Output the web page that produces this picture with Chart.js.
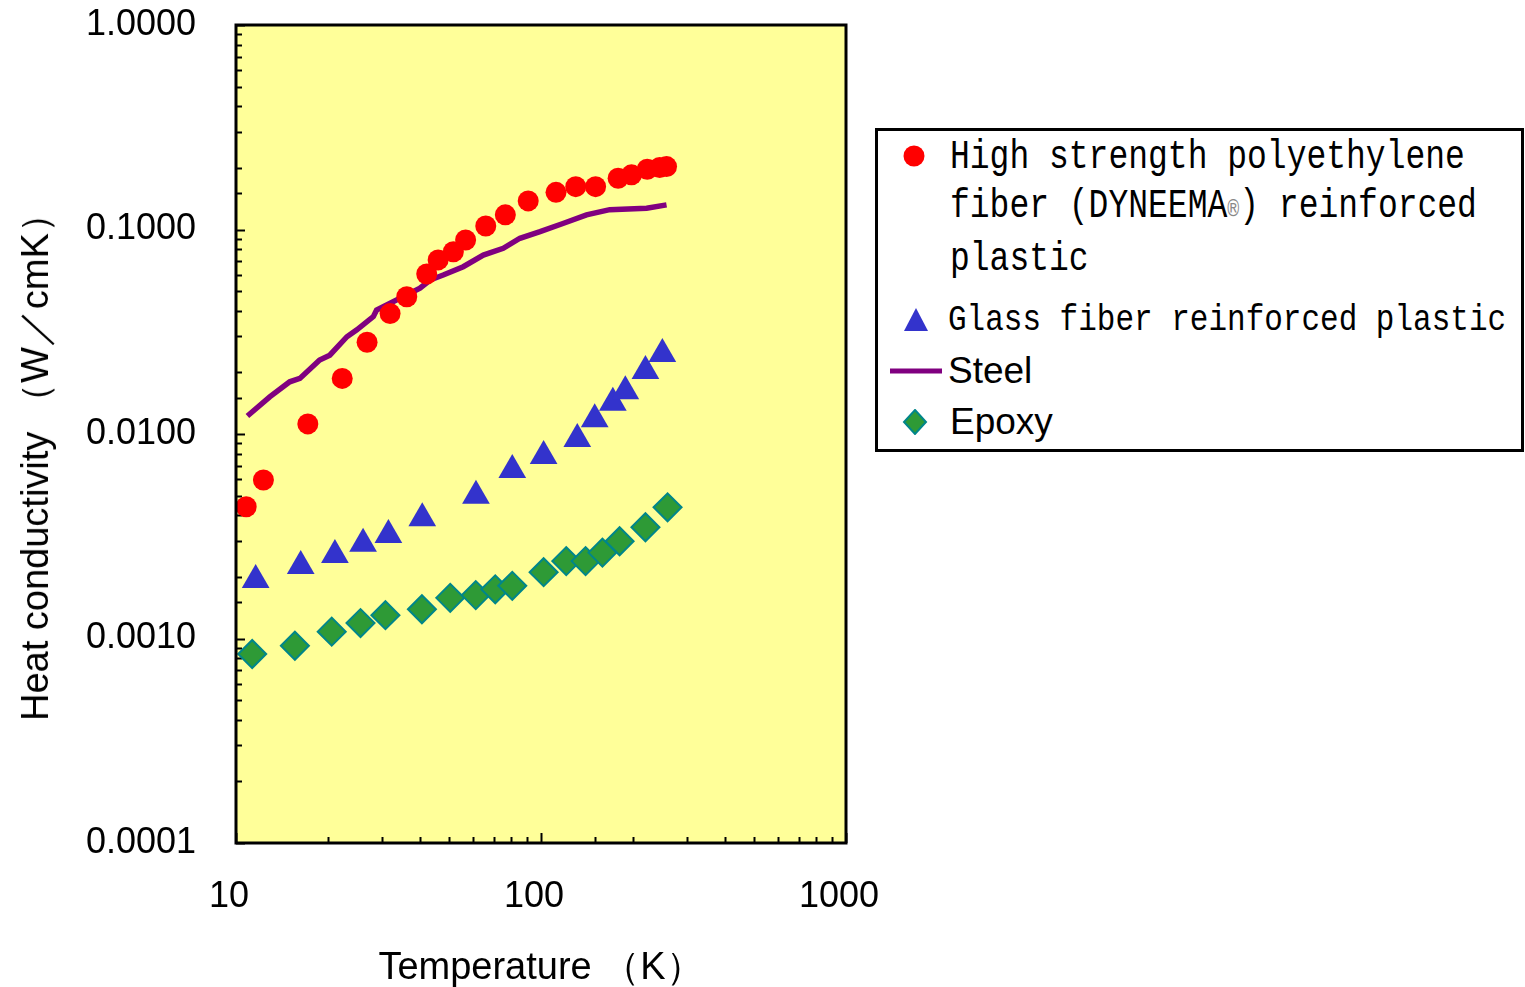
<!DOCTYPE html>
<html>
<head>
<meta charset="utf-8">
<script src="https://cdn.jsdelivr.net/npm/chart.js@4.4.1/dist/chart.umd.min.js"></script>
<style>
  body { margin: 0; background: #fff; }
  #wrap { position: relative; width: 1525px; height: 987px; overflow: hidden; }
  #chart { position: absolute; left: 0; top: 0; }
  .title { position: absolute; white-space: nowrap; color: #000;
           font-family: "Liberation Sans", Arial, sans-serif; font-size: 38px; line-height: 38px; }
  #ytitle { left: 35px; top: 458px; transform: translate(-50%, -50%) rotate(-90deg); }
  #xtitle { left: 541px; top: 966px; transform: translate(-50%, -50%); }
  #legend { position: absolute; left: 875px; top: 128px; width: 649px; height: 324px;
            box-sizing: border-box; border: 3px solid #000; background: #fff; }
  .row { position: absolute; white-space: nowrap; color: #000; line-height: 34px; }
  .mono { font-family: "Liberation Mono", "DejaVu Sans Mono", monospace; font-size: 33px;
          transform: translateY(-50%) scaleY(1.22); }
  .prop { font-family: "Liberation Sans", Arial, sans-serif; font-size: 37px;
          transform: translateY(-50%); }
  .reg { color: #888; font-size: 20px; }
  .mk { position: absolute; }
</style>
</head>
<body>
<div id="wrap">
  <canvas id="chart" width="1525" height="987"></canvas>
  <div class="title" id="ytitle">Heat conductivity （W／cmK）</div>
  <div class="title" id="xtitle">Temperature （K）</div>
  <div id="legend">
    <svg class="mk" style="left:24px;top:13px" width="24" height="24"><circle cx="12" cy="12" r="10.5" fill="#ff0000"/></svg>
    <div class="row mono" style="left:72px;top:27px">High strength polyethylene</div>
    <div class="row mono" style="left:72px;top:78px">fiber (DYNEEMA<span class="reg">®</span>) reinforced</div>
    <div class="row mono" style="left:72px;top:129px">plastic</div>
    <svg class="mk" style="left:24px;top:176px" width="28" height="26"><polygon points="14,1 26,24 2,24" fill="#3333cc"/></svg>
    <div class="row mono" style="left:70px;top:189px;font-size:31px">Glass fiber reinforced plastic</div>
    <svg class="mk" style="left:10px;top:234px" width="56" height="12"><line x1="2" y1="6" x2="54" y2="6" stroke="#800080" stroke-width="5"/></svg>
    <div class="row prop" style="left:70px;top:240px">Steel</div>
    <svg class="mk" style="left:24px;top:278px" width="26" height="26"><polygon points="13,1 24,13 13,25 2,13" fill="#2e9a36" stroke="#00868a" stroke-width="2"/></svg>
    <div class="row prop" style="left:72px;top:291px">Epoxy</div>
  </div>
</div>
<script>
// High strength polyethylene fiber (DYNEEMA) reinforced plastic
const peTemp = [10.8, 12.3, 17.2, 22.3, 26.9, 32.0, 36.3, 42.2, 46.0, 51.6, 56.6, 65.9, 76.4, 90.8, 112, 130, 151, 179, 198, 223, 245, 258];
const peK = [0.00441, 0.00596, 0.0112, 0.0187, 0.0281, 0.0388, 0.0469, 0.0606, 0.0710, 0.0778, 0.0888, 0.104, 0.118, 0.138, 0.152, 0.162, 0.162, 0.178, 0.185, 0.197, 0.201, 0.203];

// Glass fiber reinforced plastic
const gfrpTemp = [11.6, 16.3, 21.1, 26.1, 31.6, 40.8, 61.2, 80.5, 102, 131.5, 150, 172, 189, 220, 250];
const gfrpK = [0.00193, 0.00226, 0.00256, 0.00291, 0.00321, 0.00387, 0.00499, 0.00667, 0.00780, 0.00946, 0.0118, 0.0142, 0.0162, 0.0203, 0.0246];

// Steel
const steelTemp = [10.9, 12.9, 15.0, 16.2, 18.8, 20.3, 23.1, 24.9, 28.2, 28.9, 40.1, 43.3, 47.8, 55.6, 64.7, 75.2, 85.3, 99.3, 118, 141, 168, 222, 258];
const steelK = [0.01225, 0.0152, 0.0180, 0.0187, 0.0230, 0.0243, 0.0299, 0.0323, 0.0375, 0.0404, 0.0516, 0.0566, 0.0599, 0.0658, 0.0750, 0.0809, 0.0906, 0.0976, 0.107, 0.118, 0.125, 0.127, 0.132];

// Epoxy
const epoxyTemp = [11.3, 15.6, 20.6, 25.6, 30.9, 40.7, 50.4, 61.1, 70.8, 80.5, 102, 121, 140, 159, 181, 220, 260];
const epoxyK = [0.00084, 0.000922, 0.00108, 0.00119, 0.00130, 0.00139, 0.00158, 0.00163, 0.00174, 0.00181, 0.00211, 0.00239, 0.00239, 0.00263, 0.00299, 0.00350, 0.00438];

// axis ranges
const xMin = 10, xMax = 1000;
const yMin = 0.0001, yMax = 1;

function pairs(xs, ys) {
  return xs.map((x, i) => ({ x: x, y: ys[i] }));
}
function isDecade(v) {
  const l = Math.log10(v);
  return Math.abs(l - Math.round(l)) < 1e-9;
}

// yellow plot area, inward tick marks and frame
const frame = {
  id: 'frame',
  beforeDatasetsDraw(chart) {
    const ctx = chart.ctx, a = chart.chartArea;
    ctx.save();
    ctx.fillStyle = '#ffff99';
    ctx.fillRect(a.left, a.top, a.right - a.left, a.bottom - a.top);
    ctx.strokeStyle = '#000';
    ctx.lineWidth = 2;
    chart.scales.x.ticks.forEach(t => {
      const px = Math.round(chart.scales.x.getPixelForValue(t.value)) + 0.5;
      const len = isDecade(t.value) ? 10 : 6;
      ctx.beginPath(); ctx.moveTo(px, a.bottom); ctx.lineTo(px, a.bottom - len); ctx.stroke();
    });
    chart.scales.y.ticks.forEach(t => {
      const py = Math.round(chart.scales.y.getPixelForValue(t.value)) + 0.5;
      const len = isDecade(t.value) ? 9 : 6;
      ctx.beginPath(); ctx.moveTo(a.left, py); ctx.lineTo(a.left + len, py); ctx.stroke();
    });
    ctx.restore();
  },
  afterDraw(chart) {
    const ctx = chart.ctx, a = chart.chartArea;
    ctx.save();
    ctx.strokeStyle = '#000';
    ctx.lineWidth = 3;
    ctx.strokeRect(a.left, a.top, a.right - a.left, a.bottom - a.top);
    ctx.restore();
  }
};

const tickFont = { family: '"Liberation Sans", Arial, sans-serif', size: 36 };

new Chart(document.getElementById('chart'), {
  type: 'scatter',
  data: {
    datasets: [
      {
        label: 'High strength polyethylene fiber (DYNEEMA®) reinforced plastic',
        data: pairs(peTemp, peK),
        pointStyle: 'circle', pointRadius: 10.5,
        backgroundColor: '#ff0000', borderColor: '#ff0000', borderWidth: 0,
        order: 1
      },
      {
        label: 'Glass fiber reinforced plastic',
        data: pairs(gfrpTemp, gfrpK),
        pointStyle: 'triangle', pointRadius: 16,
        backgroundColor: '#3333cc', borderColor: '#3333cc', borderWidth: 0,
        order: 2
      },
      {
        label: 'Steel',
        data: pairs(steelTemp, steelK),
        showLine: true, pointRadius: 0,
        borderColor: '#800080', borderWidth: 5.5, tension: 0,
        order: 3
      },
      {
        label: 'Epoxy',
        data: pairs(epoxyTemp, epoxyK),
        pointStyle: 'rectRot', pointRadius: 14,
        backgroundColor: '#2e9a36', borderColor: '#00868a', borderWidth: 2,
        order: 4
      }
    ]
  },
  options: {
    responsive: false,
    devicePixelRatio: 1,
    animation: false,
    layout: { padding: { top: 25, right: 679, left: 0, bottom: 0 } },
    plugins: { legend: { display: false }, tooltip: { enabled: false } },
    scales: {
      x: {
        type: 'logarithmic', min: xMin, max: xMax,
        afterFit(scale) { scale.height = 144; },
        grid: { display: false, drawTicks: false },
        border: { display: false },
        ticks: {
          autoSkip: false, maxRotation: 0, color: '#000', font: tickFont,
          padding: 32, labelOffset: -7,
          callback: v => isDecade(v) ? String(Math.round(v)) : ''
        }
      },
      y: {
        type: 'logarithmic', min: yMin, max: yMax,
        afterFit(scale) { scale.width = 236; scale.paddingTop = 20; scale.paddingBottom = 20; },
        grid: { display: false, drawTicks: false },
        border: { display: false },
        ticks: {
          autoSkip: false, color: '#000', font: tickFont, padding: 40,
          callback: v => isDecade(v) ? Number(v).toFixed(4) : ''
        }
      }
    }
  },
  plugins: [frame]
});
</script>
</body>
</html>
